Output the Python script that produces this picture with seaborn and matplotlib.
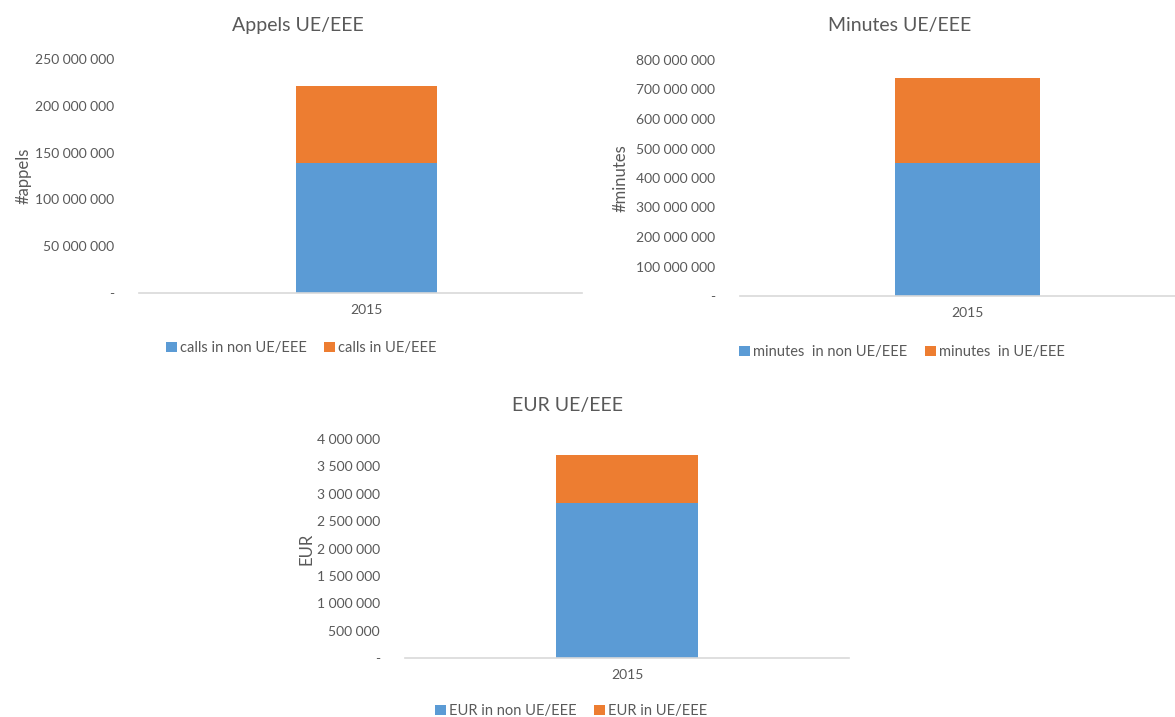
import seaborn as sns
import pandas as pd
from matplotlib import pyplot as plt
from matplotlib.ticker import FuncFormatter

#%%
years = ["2015"]

calls_non_ue = [139_300_000]
calls_ue = [82_100_000]

minutes_non_ue = [450_500_000]
minutes_ue = [289_400_000]

eur_non_ue = [2_827_000]
eur_ue = [887_000]

BLUE = "#5B9BD5"
ORANGE = "#ED7D31"
TEXT = "#595959"
AXIS = "#D9D9D9"

#%%
sns.set_theme(style="white")
plt.rcParams["font.family"] = ["Lato", "DejaVu Sans"]
plt.rcParams["font.size"] = 10


def thousands(val, pos):
    if val == 0:
        return "-"
    return f"{val:,.0f}".replace(",", " ")


def draw_stacked(ax, non_vals, ue_vals, non_label, ue_label, ylabel, ymax, ystep):
    table = pd.DataFrame({"year": years, "non": non_vals, "ue": ue_vals})
    sns.barplot(data=table, x="year", y="non", color=BLUE, width=0.32,
                saturation=1, label=non_label, linewidth=0, ax=ax)
    sns.barplot(data=table, x="year", y="ue", bottom=table["non"], color=ORANGE,
                width=0.32, saturation=1, label=ue_label, linewidth=0, ax=ax)
    ax.set_ylim(0, ymax)
    ax.set_yticks(range(0, ymax + 1, ystep))
    ax.yaxis.set_major_formatter(FuncFormatter(thousands))
    ax.set_xlabel("")
    ax.set_ylabel(ylabel, color=TEXT, fontsize=12)
    for side in ["top", "right", "left"]:
        ax.spines[side].set_visible(False)
    ax.spines["bottom"].set_color(AXIS)
    ax.spines["bottom"].set_linewidth(1.2)
    ax.tick_params(axis="y", length=0, pad=18, colors=TEXT, labelsize=10)
    ax.tick_params(axis="x", length=0, pad=8, colors=TEXT, labelsize=10)
    ax.legend().remove()


#%%
fig = plt.figure(figsize=(11.75, 7.17), dpi=100)
W, H = 1175, 717


def axes_px(left, right, top, bottom):
    return fig.add_axes([left / W, 1 - bottom / H, (right - left) / W, (bottom - top) / H])


ax1 = axes_px(139, 582, 59, 293)
ax2 = axes_px(740, 1195, 60, 296)
ax3 = axes_px(405, 849, 439, 658)

draw_stacked(ax1, calls_non_ue, calls_ue, "calls in non UE/EEE", "calls in UE/EEE",
             "#appels", 250_000_000, 50_000_000)
draw_stacked(ax2, minutes_non_ue, minutes_ue, "minutes  in non UE/EEE", "minutes  in UE/EEE",
             "#minutes", 800_000_000, 100_000_000)
draw_stacked(ax3, eur_non_ue, eur_ue, "EUR in non UE/EEE", "EUR in UE/EEE",
             "EUR", 4_000_000, 500_000)

ax1.set_xlim(-0.5135, 0.4865)
ax2.set_xlim(-0.5, 0.5)
ax3.set_xlim(-0.5, 0.5)

ax1.yaxis.set_label_coords(-0.242, 0.5)
ax2.yaxis.set_label_coords(-0.246, 0.5)
ax3.yaxis.set_label_coords(-0.204, 0.5)

titles = [("Appels UE/EEE", 298, 25), ("Minutes UE/EEE", 900, 25), ("EUR UE/EEE", 567, 406)]
for text, x, y in titles:
    fig.text(x / W, 1 - y / H, text, ha="center", va="center", fontsize=14, color=TEXT)

legend_pos = [(ax1, 301, 348), (ax2, 902, 352), (ax3, 571, 711)]
for ax, x, y in legend_pos:
    handles, labels = ax.get_legend_handles_labels()
    fig.legend(handles, labels, loc="center", bbox_to_anchor=(x / W, 1 - y / H),
               ncol=2, frameon=False, fontsize=10.5, labelcolor=TEXT,
               handlelength=0.75, handleheight=0.75, handletextpad=0.2, columnspacing=1.2)

plt.savefig("out.png", dpi=100)
plt.close()
